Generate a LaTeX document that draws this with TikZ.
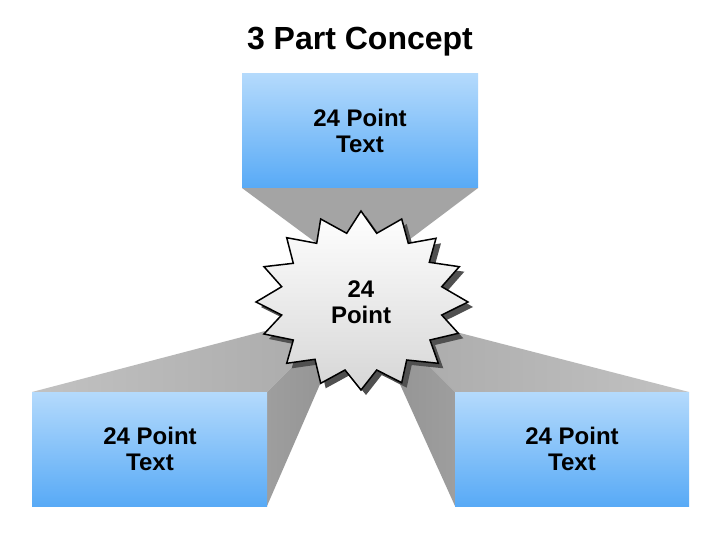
\documentclass[tikz,border=0pt]{standalone}
\usepackage{fontspec}
\setmainfont{Liberation Sans}
\definecolor{boxtop}{RGB}{180,218,252}
\definecolor{boxbot}{RGB}{88,170,246}
\definecolor{funnelgrey}{RGB}{164,164,164}
\definecolor{facelight}{RGB}{194,194,194}
\definecolor{facedark}{RGB}{170,170,170}
\definecolor{sidegrey}{RGB}{158,158,158}
\definecolor{sidedark}{RGB}{146,146,146}
\definecolor{shadowgrey}{RGB}{80,80,80}
\begin{document}
\begin{tikzpicture}[x=1pt,y=-1pt,
  boxstyle/.style={top color=boxtop,bottom color=boxbot,draw=none},
  lbl/.style={font=\bfseries\fontsize{24}{26}\selectfont,align=center,text=black,inner sep=0pt},
  titlestyle/.style={font=\bfseries\fontsize{32}{36}\selectfont,text=black,inner sep=0pt}
]
\useasboundingbox (0,0) rectangle (720,540);
\fill[white] (0,0) rectangle (720,540);
\def\starpath{(361,211) -- (376.7,233.3) -- (401.7,219) -- (408.3,243.3) -- (436,238.3) -- (429.3,262.3)
  -- (459.3,266.7) -- (441.7,286.7) -- (468,302) -- (441.7,315) -- (458.3,333.3) -- (430,340)
  -- (438.3,363.3) -- (406.7,360) -- (401.7,382.7) -- (376.7,370) -- (361,390) -- (345,370)
  -- (320.7,383.3) -- (315,359.3) -- (286.7,363.3) -- (293.3,340) -- (264,334) -- (281.7,315)
  -- (256,302) -- (281.7,286.7) -- (264,266.7) -- (293.3,263.3) -- (286.7,237.7) -- (316.7,243.3)
  -- (320.7,219) -- (346.7,233.3) -- cycle}
\coordinate (vt) at (361,276);
% top funnel
\fill[funnelgrey] (242,188) -- (478,188) -- (vt) -- cycle;
% left extrusion
\shade[left color=facelight,right color=facedark] (32,392) -- (267,392) -- (330,329) -- (330,314) -- cycle;
\shade[left color=sidegrey,right color=sidedark] (267,392) -- (267,506) -- (344,329) -- (330,329) -- cycle;
% right extrusion
\shade[right color=facelight,left color=facedark] (689,392) -- (455,392) -- (392,329) -- (392,315.5) -- cycle;
\shade[right color=sidegrey,left color=sidedark] (455,392) -- (455,506) -- (375,329) -- (392,329) -- cycle;
% boxes
\shade[boxstyle] (242,74) rectangle (478,188);
\shade[boxstyle] (32,392) rectangle (267,506);
\shade[boxstyle] (455,392) rectangle (689,506);
% star shadow
\fill[shadowgrey,shift={(5,5)}] \starpath;
% star
\draw[line width=1.5pt,black,top color=white,bottom color=black!16,line join=miter] \starpath;
% texts
\node[titlestyle] (title) at (360,42) {3 Part Concept};
\node[lbl] (toptext) at (360,131) {24 Point\\Text};
\node[lbl] (lefttext) at (150,449) {24 Point\\Text};
\node[lbl] (righttext) at (572,449) {24 Point\\Text};
\node[lbl] (startext) at (361,302) {24\\Point};
\end{tikzpicture}
\end{document}
